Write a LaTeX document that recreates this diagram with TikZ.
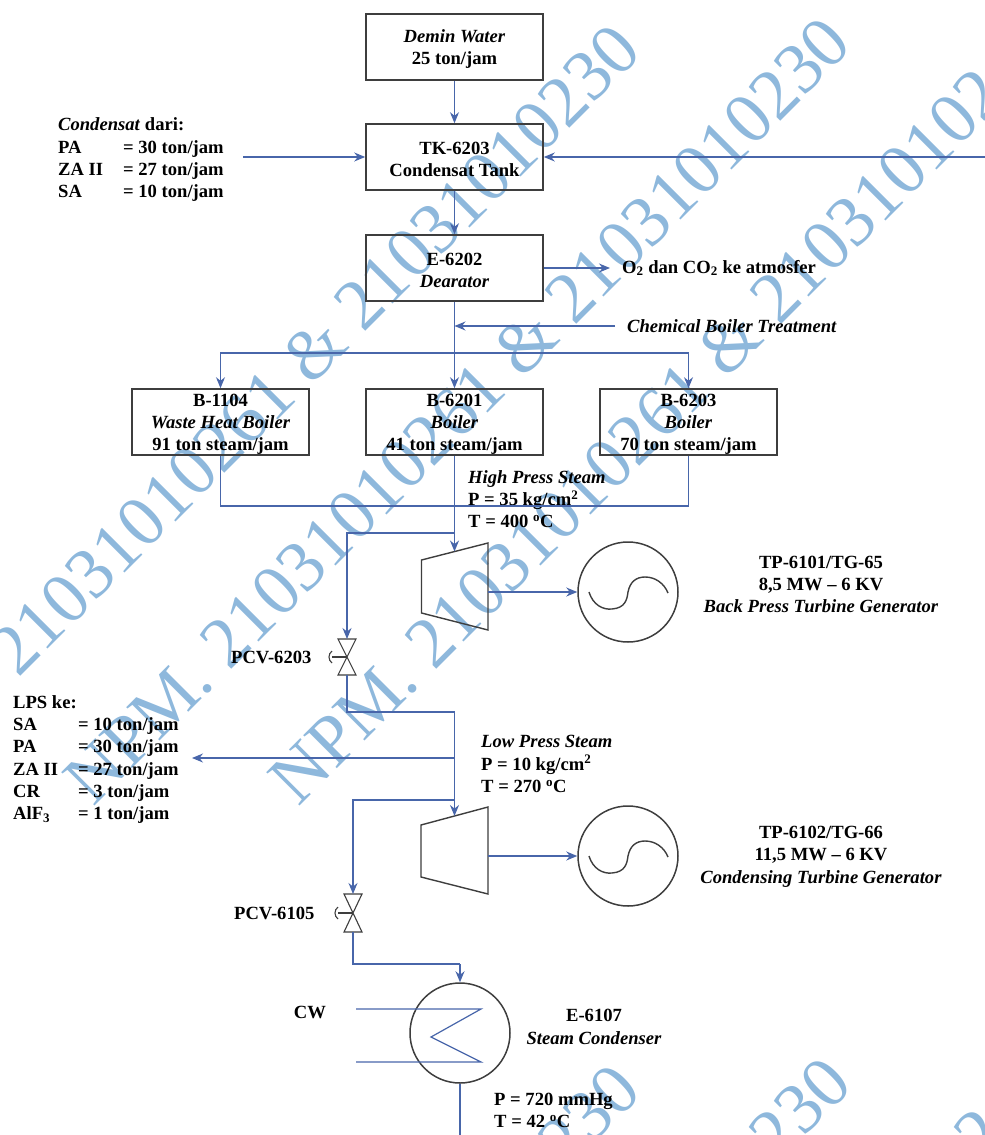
\documentclass[tikz,border=0pt]{standalone}
\usepackage{fontspec}
\setmainfont{Liberation Serif}
\usetikzlibrary{arrows.meta,calc}
\definecolor{flowc}{RGB}{72,102,170}
\definecolor{edgec}{RGB}{62,62,62}
\definecolor{markc}{RGB}{142,184,220}
\tikzset{
 flow/.style={draw=flowc,line width=1.2pt},
 arr/.style={flow,-{Stealth[length=11pt,width=9pt]}},
 eq/.style={draw=edgec,line width=1.4pt},
 thineq/.style={draw=edgec,line width=1.1pt},
 box/.style={draw=edgec,line width=1.6pt,minimum width=177pt,minimum height=66pt,inner sep=0pt,align=center,font=\fontsize{18.6}{22}\selectfont\bfseries},
 lab/.style={inner sep=0pt,align=center,font=\fontsize{18.6}{22.3}\selectfont\bfseries},
 labl/.style={lab,align=left,anchor=west},
 gen/.style={circle,draw=edgec,line width=1.5pt,minimum size=100pt,inner sep=0pt},
 wmark/.style={text=markc,inner sep=0pt,anchor=east,rotate=45,font=\fontsize{72}{72}\selectfont},
}
\newcommand{\tstrut}{\rule{0pt}{16.5pt}}
\begin{document}
\begin{tikzpicture}[x=1pt,y=-1pt]
\useasboundingbox (0,0) rectangle (985,1135);
\begin{scope}
\clip (0,0) rectangle (985,1135);
\node[wmark] (w1) at (627,37) {21031010261 \& 21031010230};
\node[wmark] (w2) at (838,30) {NPM. 21031010261 \& 21031010230};
\node[wmark] (w3) at (992,81) {NPM. 21031010261 \& 210310102};
\node[wmark] (w4) at (627,1077) {10230};
\node[wmark] (w5) at (838,1070) {10230};
\node[wmark] (w6) at (992,1121) {102};
\end{scope}
% boxes
\node[box] (demin) at (454.5,47) {\tstrut\textit{Demin Water}\\25 ton/jam};
\node[box] (tank) at (454.5,157) {\tstrut TK-6203\\Condensat Tank};
\node[box] (dear) at (454.5,268) {\tstrut E-6202\\\textit{Dearator}};
\node[box] (b1) at (220.5,422) {\tstrut B-1104\\\textit{Waste Heat Boiler}\\91 ton steam/jam};
\node[box] (b2) at (454.5,422) {\tstrut B-6201\\\textit{Boiler}\\41 ton steam/jam};
\node[box] (b3) at (688.5,422) {\tstrut B-6203\\\textit{Boiler}\\70 ton steam/jam};
% text
\node[lab,anchor=north west] (cond) at (58,115) {\setlength{\tabcolsep}{0pt}\begin{tabular}{@{}p{65pt}l@{}}
\multicolumn{2}{@{}l@{}}{\textit{Condensat} dari:}\\
PA & = 30 ton/jam\\ ZA II & = 27 ton/jam\\ SA & = 10 ton/jam\end{tabular}};
\node[lab,anchor=north west] (lps) at (13,692.5) {\setlength{\tabcolsep}{0pt}\begin{tabular}{@{}p{65pt}l@{}}
\multicolumn{2}{@{}l@{}}{LPS ke:}\\
SA & = 10 ton/jam\\ PA & = 30 ton/jam\\ ZA II & = 27 ton/jam\\ CR & = 3 ton/jam\\ AlF\textsubscript{3} & = 1 ton/jam\end{tabular}};
\node[labl] (o2) at (622,268) {O\textsubscript{2} dan CO\textsubscript{2} ke atmosfer};
\node[labl] (chem) at (627,326) {\textit{Chemical Boiler Treatment}};
\node[labl] (hps) at (468,499) {\textit{High Press Steam}\\P = 35 kg/cm\textsuperscript{2}\\T = 400 \textsuperscript{o}C};
\node[labl] (lpsc) at (481,764) {\textit{Low Press Steam}\\P = 10 kg/cm\textsuperscript{2}\\T = 270 \textsuperscript{o}C};
\node[lab] (tg1) at (821,584.5) {TP-6101/TG-65\\8,5 MW -- 6 KV\\\textit{Back Press Turbine Generator}};
\node[lab] (tg2) at (821,856.5) {TP-6102/TG-66\\11,5 MW -- 6 KV\\\textit{Condensing Turbine Generator}};
\node[labl] (pcv1) at (231,657) {PCV-6203};
\node[labl] (pcv2) at (234,913) {PCV-6105};
\node[lab] (cw) at (310,1012) {CW};
\node[lab] (e6107) at (594,1027) {E-6107\\\textit{Steam Condenser}};
\node[labl] (pcond) at (494,1110.5) {P = 720 mmHg\\T = 42 \textsuperscript{o}C};
% coordinates
\coordinate (jl) at (220.5,353); \coordinate (jc) at (454.5,353); \coordinate (jr) at (688.5,353);
\coordinate (cs) at (243,157); \coordinate (ce) at (985,157);
\coordinate (ch) at (615,326); \coordinate (chj) at (454.5,326);
\coordinate (co) at (610,268);
\coordinate (hj) at (454.5,506);
\coordinate (hb) at (454.5,533); \coordinate (hv) at (347,533);
\coordinate (v1) at (347,657); \coordinate (v2) at (353,913);
\coordinate (l1) at (347,712); \coordinate (l2) at (454.5,712);
\coordinate (l3) at (454.5,758); \coordinate (l4) at (192,758);
\coordinate (l5) at (454.5,800); \coordinate (l6) at (353,800);
\coordinate (t1in) at (454.5,551.5); \coordinate (t2in) at (454.5,816);
\coordinate (c1) at (353,964); \coordinate (c2) at (460,964);
\coordinate (cb) at (460,1135);
\coordinate (t1o) at (488,592); \coordinate (t2o) at (488,856);
% equipment
\draw[eq] (421.5,560) -- (488,543) -- (488,630) -- (421.5,613) -- cycle;
\draw[eq] (421,825) -- (488,807) -- (488,894) -- (421,877) -- cycle;
\node[gen] (g1) at (628,592) {};
\node[gen] (g2) at (628,856) {};
\node[gen] (cnd) at (460,1033) {};
\begin{scope}[shift={(g1)}]
\draw[eq] (-39,0) .. controls (-35,13) and (-25,18) .. (-16,17) .. controls (-3,16) and (-1,8) .. (0,0) .. controls (2,-10) and (8,-15) .. (17,-15) .. controls (27,-15) and (36,-9) .. (40,1);
\end{scope}
\begin{scope}[shift={(g2)}]
\draw[eq] (-39,0) .. controls (-35,13) and (-25,18) .. (-16,17) .. controls (-3,16) and (-1,8) .. (0,0) .. controls (2,-10) and (8,-15) .. (17,-15) .. controls (27,-15) and (36,-9) .. (40,1);
\end{scope}
% valves
\begin{scope}[shift={(v1)}]
\draw[thineq] (-9,-18) -- (9,-18) -- (-9,18) -- (9,18) -- cycle;
\draw[thineq] (0,0) -- (-15,0);
\draw[thineq] (-15,-6) .. controls (-19,-3) and (-19,3) .. (-15,6);
\end{scope}
\begin{scope}[shift={(v2)}]
\draw[thineq] (-9,-19) -- (9,-19) -- (-9,19) -- (9,19) -- cycle;
\draw[thineq] (0,0) -- (-15,0);
\draw[thineq] (-15,-6) .. controls (-19,-3) and (-19,3) .. (-15,6);
\end{scope}
% connectors
\draw[arr] (demin) -- (tank);
\draw[arr] (tank) -- (dear);
\draw[arr] (cs) -- (tank.west);
\draw[arr] (ce) -- (tank.east);
\draw[arr] (dear.east) -- (co);
\draw[arr] (ch) -- (chj);
\draw[arr] (dear) -- (b2);
\draw[arr] (jc) -- (jl) -- (b1.north);
\draw[arr] (jc) -- (jr) -- (b3.north);
\draw[flow] (b1.south) |- (hj);
\draw[flow] (b3.south) |- (hj);
\draw[arr] (b2.south) -- (t1in);
\draw[arr] (hb) -- (hv) -- ($(v1)+(0,-18)$);
\draw[flow] ($(v1)+(0,18)$) -- (l1) -- (l2);
\draw[arr] (l2) -- (t2in);
\draw[arr] (l3) -- (l4);
\draw[arr] (l5) -- (l6) -- ($(v2)+(0,-19)$);
\draw[flow] ($(v2)+(0,19)$) -- (c1) -- (c2);
\draw[arr] (c2) -- (cnd.north);
\draw[flow] (cnd.south) -- (cb);
\draw[arr] (t1o) -- (g1.west);
\draw[arr] (t2o) -- (g2.west);
\coordinate (k1) at (356,1009); \coordinate (k2) at (481,1009); \coordinate (k3) at (431,1037); \coordinate (k4) at (481,1062); \coordinate (k5) at (356,1062);
\draw[flow] (k1) -- (k2) -- (k3) -- (k4) -- (k5);
\end{tikzpicture}
\end{document}
